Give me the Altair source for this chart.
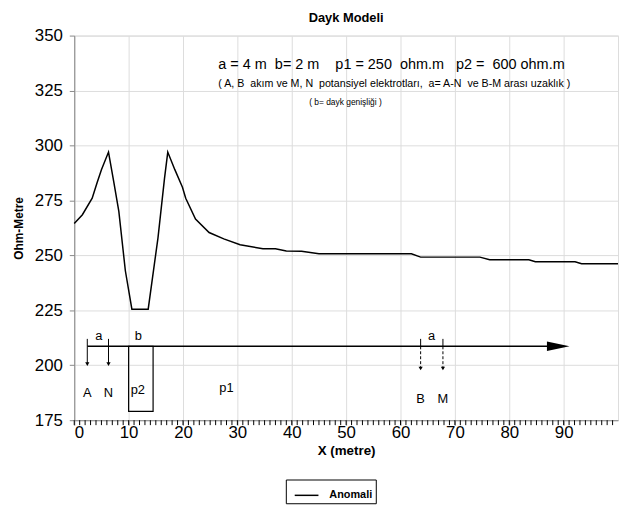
import altair as alt
import pandas as pd

# ---- data ----
curve_x = [0, 1.5, 3.3, 4.2, 5.0, 6.3, 7.3, 8.2, 9.4, 10.6, 13.6, 15.4, 16.6, 17.2,
           18.5, 19.9, 20.5, 22.3, 24.8, 27.5, 30.5, 34.7, 37.0, 39.0, 41.8, 45.0,
           62.0, 63.7, 74.6, 76.4, 83.6, 84.8, 92.1, 93.3, 100]
curve_v = [264.5, 268.5, 276.0, 283.0, 289.0, 297.0, 283.0, 270.0, 243.0, 225.5, 225.5,
           258.0, 285.0, 297.0, 289.0, 281.0, 276.0, 266.5, 260.4, 257.5, 254.8, 253.0,
           253.0, 252.0, 251.9, 250.7, 250.7, 249.2, 249.2, 248.0, 248.0, 247.1, 247.1,
           246.2, 246.2]
series_name = "Anomali"

electrode_names = ["A", "N", "B", "M"]
electrode_x = [2.4, 6.3, 63.7, 67.8]
electrode_arrow_end = [200.5, 200.5, 198.5, 198.5]
electrode_dashed = [False, False, True, True]
electrode_label_v = [187.5, 187.5, 184.5, 184.5]
electrode_tick_top = 212.0

profile_x = [2.4, 87.0]
profile_v = 208.6
arrowhead_x = 89.0

spacing_labels = ["a", "b", "a"]
spacing_x = [4.5, 11.8, 65.7]
spacing_v = 213.3

region_labels = ["p2", "p1"]
region_x = [11.7, 28.0]
region_v = [188.7, 189.5]

dyke_x = [10.0, 14.5]
dyke_v = [179.0, 208.6]

NB = "\u00a0"
note_texts = ["a = 4 m" + NB * 2 + "b= 2 m" + NB * 4 + "p1 = 250" + NB * 2 + "ohm.m" + NB * 3
              + "p2 =" + NB * 2 + "600 ohm.m",
              "( A, B" + NB * 2 + "akım ve M, N" + NB * 2 + "potansiyel elektrotları," + NB * 2
              + "a= A-N" + NB * 2 + "ve B-M arası uzaklık )",
              "( b= dayk genişliği )"]
note_x = [26.5, 26.5, 43.2]
note_v = [336.7, 327.8, 319.6]
note_size = [14.6, 10.8, 8.5]

x_domain = [0, 100]
y_domain = [175, 350]
x_major_ticks = list(range(0, 100, 10))
x_minor_ticks = list(range(0, 100))
y_tick_values = [175, 200, 225, 250, 275, 300, 325, 350]

FONT = "Liberation Sans"
W, H = 550, 389

xs = alt.Scale(domain=x_domain, nice=False, zero=False)
ys = alt.Scale(domain=y_domain, nice=False, zero=False)

df_curve = pd.DataFrame({"x": curve_x, "v": curve_v, "series": series_name})
df_el = pd.DataFrame({"name": electrode_names, "x": electrode_x,
                      "end": electrode_arrow_end, "dashed": electrode_dashed,
                      "lv": electrode_label_v, "top": electrode_tick_top,
                      "base": profile_v})
df_prof = pd.DataFrame({"x": [profile_x[0]], "x2": [profile_x[1]], "v": [profile_v]})
df_head = pd.DataFrame({"x": [arrowhead_x], "v": [profile_v]})
df_sp = pd.DataFrame({"t": spacing_labels, "x": spacing_x, "v": spacing_v})
df_reg = pd.DataFrame({"t": region_labels, "x": region_x, "v": region_v})
df_dyke = pd.DataFrame({"x": [dyke_x[0]], "x2": [dyke_x[1]], "v": [dyke_v[0]], "v2": [dyke_v[1]]})
df_notes = pd.DataFrame({"t": note_texts, "x": note_x, "v": note_v, "s": note_size})
df_minor = pd.DataFrame({"x": x_minor_ticks})

curve = alt.Chart(df_curve).mark_line(strokeWidth=1.5).encode(
    x=alt.X("x:Q", scale=xs, title="X (metre)", axis=alt.Axis(
        values=x_major_ticks, labelFontSize=17, labelPadding=0, tickSize=5,
        ticks=True, tickWidth=1, labelOverlap=False,
        titleFontSize=13.5, titleFontWeight="bold", titlePadding=3)),
    y=alt.Y("v:Q", scale=ys, title="Ohm-Metre", axis=alt.Axis(
        values=y_tick_values, labelFontSize=17, labelPadding=7, ticks=True, tickWidth=1,
        tickSize=5, titleFontSize=12, titleFontWeight="bold", titlePadding=9)),
    color=alt.Color("series:N", scale=alt.Scale(range=["black"]), legend=alt.Legend(
        title=None, orient="none", legendX=214, legendY=449, symbolType="stroke",
        symbolSize=576, symbolStrokeWidth=1.5, labelFontSize=11, labelFontWeight="bold",
        labelFont=FONT, labelOffset=10, strokeColor="black", padding=3,
        fillColor="white", symbolOffset=5)),
)

def X(field="x"):
    return alt.X(f"{field}:Q", scale=xs)

def Y(field="v"):
    return alt.Y(f"{field}:Q", scale=ys)

minor = alt.Chart(df_minor).mark_rule(color="black", strokeWidth=1).encode(
    x=X(), y=alt.value(H), y2=alt.value(H + 5))
profile = alt.Chart(df_prof).mark_rule(color="black", strokeWidth=1.5).encode(
    x=X(), x2="x2:Q", y=Y())
head = alt.Chart(df_head).mark_point(
    shape="M -1 -0.42 L 1 0 L -1 0.42 Z", filled=True, color="black", size=520,
    opacity=1).encode(x=X(), y=Y())
el_ticks = alt.Chart(df_el).mark_rule(color="black", strokeWidth=1).encode(
    x=X(), y=Y("base"), y2="top:Q")
el_solid = alt.Chart(df_el).transform_filter("!datum.dashed").mark_rule(
    color="black", strokeWidth=1).encode(x=X(), y=Y("base"), y2="end:Q")
el_dash = alt.Chart(df_el).transform_filter("datum.dashed").mark_rule(
    color="black", strokeWidth=1, strokeDash=[3, 2]).encode(x=X(), y=Y("base"), y2="end:Q")
el_tips = alt.Chart(df_el).mark_point(shape="triangle-down", filled=True, color="black",
                                      size=18, opacity=1).encode(x=X(), y=Y("end"))
el_labels = alt.Chart(df_el).mark_text(font=FONT, fontSize=13, color="black").encode(
    x=X(), y=Y("lv"), text="name:N")
sp_labels = alt.Chart(df_sp).mark_text(font=FONT, fontSize=13, color="black").encode(
    x=X(), y=Y(), text="t:N")
reg_labels = alt.Chart(df_reg).mark_text(font=FONT, fontSize=13, color="black").encode(
    x=X(), y=Y(), text="t:N")
dyke = alt.Chart(df_dyke).mark_rect(fillOpacity=0, stroke="black", strokeWidth=1.2).encode(
    x=X(), x2="x2:Q", y=Y(), y2="v2:Q")
notes = alt.Chart(df_notes).mark_text(font=FONT, align="left", baseline="middle",
                                      color="black").encode(
    x=X(), y=Y(), text="t:N", size=alt.Size("s:Q", scale=None, legend=None))

chart = alt.layer(
    curve, minor, dyke, profile, head, el_ticks, el_solid, el_dash, el_tips, el_labels,
    sp_labels, reg_labels, notes
).properties(
    width=W, height=H,
    title=alt.TitleParams("Dayk Modeli", fontSize=13, fontWeight="bold", font=FONT,
                          offset=2, anchor="middle", color="black"),
    autosize=alt.AutoSizeParams(type="none"),
    padding={"left": 67, "top": 25, "right": 2, "bottom": 95},
).configure_view(
    stroke="black", strokeWidth=1.5
).configure_axis(
    grid=False, domainColor="black", tickColor="black", labelColor="black",
    titleColor="black", labelFont=FONT, titleFont=FONT, domainWidth=1.5
).configure(background="white")

chart.save("out.html", embed_options={"renderer": "svg", "actions": False})
